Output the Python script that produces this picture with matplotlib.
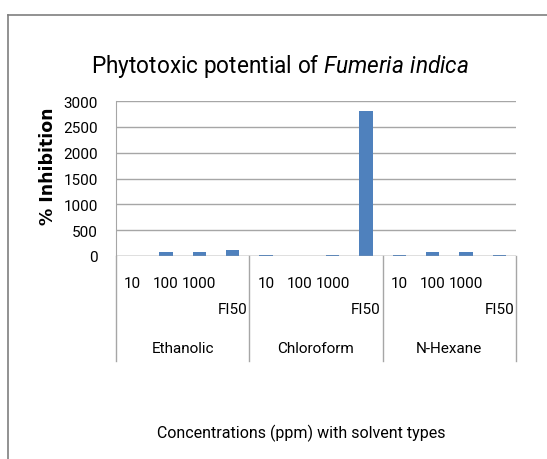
import matplotlib

matplotlib.use("Agg")
import matplotlib.pyplot as plt
import matplotlib.transforms as mtransforms

# Data
solvents = ["Ethanolic", "Chloroform", "N-Hexane"]
concentrations = ["10", "100", "1000", "FI50"]
ethanolic = [0, 85, 85, 120]
chloroform = [25, 0, 25, 2805]
n_hexane = [25, 85, 85, 25]
y_ticks = [0, 500, 1000, 1500, 2000, 2500, 3000]

BAR_COLOR = "#4F81BD"
GRID_COLOR = "#A6A6A6"

plt.rcParams["font.family"] = ["Roboto", "DejaVu Sans"]
plt.rcParams["mathtext.fontset"] = "custom"
plt.rcParams["mathtext.rm"] = "Roboto"
plt.rcParams["mathtext.it"] = "Roboto:italic"

W, H = 547, 460
fig = plt.figure(figsize=(W / 100, H / 100), dpi=100)

# chart-area border (top and left edges visible in the reference)
fig.add_artist(plt.Line2D([8 / W, 1.0], [1 - 16 / H, 1 - 16 / H], color="#7F7F7F", lw=1.2))
fig.add_artist(plt.Line2D([8 / W, 8 / W], [0.0, 1 - 16 / H], color="#7F7F7F", lw=1.2))

ax = fig.add_axes([116 / W, 1 - 257 / H, 400 / W, 155 / H])

values = ethanolic + chloroform + n_hexane
xs = list(range(len(values)))
ax.bar(xs, values, width=0.4, color=BAR_COLOR, zorder=3)

ax.set_xlim(-0.5, len(values) - 0.5)
ax.set_ylim(0, 3000)
ax.set_yticks(y_ticks)
ax.set_yticklabels([str(v) for v in y_ticks], fontsize=11)
ax.tick_params(axis="y", length=0, pad=13)
ax.set_xticks([])
ax.grid(axis="y", color=GRID_COLOR, lw=1, zorder=0)
for side in ("top", "right", "bottom"):
    ax.spines[side].set_visible(False)
ax.spines["left"].set_color(GRID_COLOR)
ax.axhline(0, color=GRID_COLOR, lw=1, zorder=4)

# two-level category axis below the plot
trans = mtransforms.blended_transform_factory(ax.transData, fig.transFigure)
y_line_bottom = 1 - 362 / H
for b in [-0.5, 3.5, 7.5, 11.5]:
    ax.plot([b, b], [1 - 257 / H, y_line_bottom], transform=trans, color=GRID_COLOR,
            lw=1, clip_on=False)

for g, solvent in enumerate(solvents):
    for i, conc in enumerate(concentrations):
        x = g * len(concentrations) + i
        y = 1 - (310 / H if conc == "FI50" else 284 / H)
        ax.text(x, y, conc, transform=trans, ha="center", va="center", fontsize=11)
    center = g * len(concentrations) + 1.5
    ax.text(center, 1 - 349 / H, solvent, transform=trans, ha="center", va="center",
            fontsize=11)

fig.text(280 / W, 1 - 66 / H, "Phytotoxic potential of $\\it{Fumeria\\ indica}$",
         ha="center", va="center", fontsize=16.3)
fig.text(48 / W, 1 - 166 / H, "% Inhibition", rotation=90, ha="center", va="center",
         fontsize=12.5, fontweight="bold", family=["DejaVu Sans"])
fig.text(301 / W, 1 - 433 / H, "Concentrations (ppm) with solvent types",
         ha="center", va="center", fontsize=11.5)

fig.savefig("out.png", dpi=100)
